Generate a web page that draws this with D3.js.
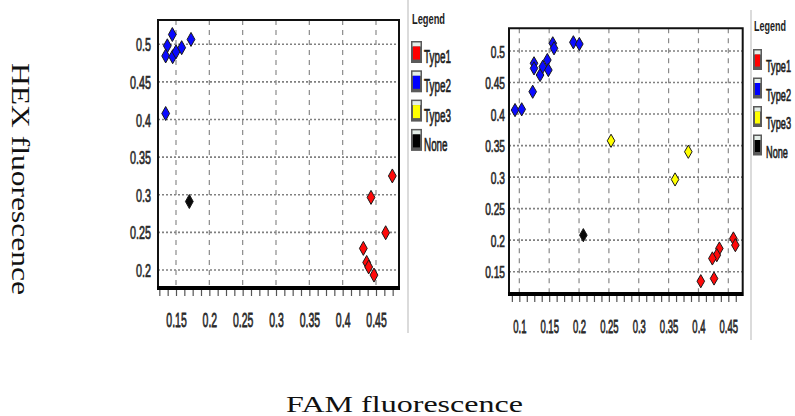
<!DOCTYPE html>
<html>
<head>
<meta charset="utf-8">
<script src="https://cdn.jsdelivr.net/npm/d3@7"></script>
<style>
  body { margin: 0; background: #fff; }
  svg { display: block; }
</style>
</head>
<body>
<svg id="chart" width="795" height="416"></svg>
<script>
// Genotype clusters, each point is [FAM, HEX]
const panelA_type1 = [[0.4745, 0.325], [0.4425, 0.2965], [0.4645, 0.2495], [0.431, 0.2287],
                      [0.436, 0.210], [0.439, 0.204], [0.447, 0.1932]];
const panelA_type2 = [[0.1445, 0.513], [0.137, 0.498], [0.1345, 0.4845], [0.145, 0.4835],
                      [0.150, 0.490], [0.1585, 0.4955], [0.1725, 0.5065], [0.1345, 0.408]];
const panelA_type3 = [];
const panelA_none  = [[0.170, 0.291]];

const panelB_type1 = [[0.4585, 0.2027], [0.4618, 0.1921], [0.435, 0.1868], [0.4307, 0.1762],
                      [0.4233, 0.1710], [0.4039, 0.1349], [0.4261, 0.1392]];
const panelB_type2 = [[0.0928, 0.4063], [0.104, 0.4075], [0.1224, 0.4354], [0.1246, 0.4805],
                      [0.1246, 0.4725], [0.1347, 0.4619], [0.1392, 0.475], [0.1469, 0.4857],
                      [0.1486, 0.4698], [0.156, 0.5122], [0.1581, 0.5043], [0.1905, 0.5138],
                      [0.2005, 0.5111]];
const panelB_type3 = [[0.2536, 0.3576], [0.383, 0.3402], [0.3608, 0.2963]];
const panelB_none  = [[0.2072, 0.2079]];

// Axis ticks
const panelA_xTicks = [0.15, 0.2, 0.25, 0.3, 0.35, 0.4, 0.45];
const panelA_xLabels = ["0.15", "0.2", "0.25", "0.3", "0.35", "0.4", "0.45"];
const panelA_yTicks = [0.2, 0.25, 0.3, 0.35, 0.4, 0.45, 0.5];
const panelA_yLabels = ["0.2", "0.25", "0.3", "0.35", "0.4", "0.45", "0.5"];

const panelB_xTicks = [0.1, 0.15, 0.2, 0.25, 0.3, 0.35, 0.4, 0.45];
const panelB_xLabels = ["0.1", "0.15", "0.2", "0.25", "0.3", "0.35", "0.4", "0.45"];
const panelB_yTicks = [0.15, 0.2, 0.25, 0.3, 0.35, 0.4, 0.45, 0.5];
const panelB_yLabels = ["0.15", "0.2", "0.25", "0.3", "0.35", "0.4", "0.45", "0.5"];

const legendNames = ["Type1", "Type2", "Type3", "None"];
const legendColors = ["#ff0000", "#0000ff", "#ffff00", "#000000"];

const svg = d3.select("#chart");
const SANS = "'Liberation Sans', Arial, sans-serif";
const SERIF = "'Liberation Serif', 'Times New Roman', serif";

function narrowText(g, x, y, str, size, sx, anchor, weight) {
  return g.append("text")
    .attr("transform", `translate(${x},${y}) scale(${sx},1)`)
    .attr("font-family", SANS)
    .attr("font-size", size)
    .attr("font-weight", weight || "normal")
    .attr("text-anchor", anchor || "start")
    .attr("fill", "#1e1e1e")
    .attr("stroke", "#1e1e1e").attr("stroke-width", weight ? 0 : 0.7)
    .text(str);
}

function drawPanel(cfg) {
  const g = svg.append("g");
  const f = cfg.frame;
  const x = d3.scaleLinear().domain(cfg.xDomain).range([f.left, f.right]);
  const y = d3.scaleLinear().domain(cfg.yDomain).range([f.bottom, f.top]);

  // grid
  g.append("g").selectAll("line").data(cfg.yTicks).join("line")
    .attr("x1", f.left).attr("x2", f.right)
    .attr("y1", d => y(d)).attr("y2", d => y(d))
    .attr("stroke", "#808080").attr("stroke-width", 1.6)
    .attr("stroke-dasharray", "2,2");
  g.append("g").selectAll("line").data(cfg.xTicks).join("line")
    .attr("x1", d => x(d)).attr("x2", d => x(d))
    .attr("y1", f.top).attr("y2", f.bottom)
    .attr("stroke", "#8a8a8a").attr("stroke-width", 1.2)
    .attr("stroke-dasharray", "5,5");

  // frame
  g.append("path")
    .attr("d", `M${f.left},${f.bottom}V${f.top}H${f.right}V${f.bottom}`)
    .attr("fill", "none").attr("stroke", "#111").attr("stroke-width", 2);
  g.append("line")
    .attr("x1", f.left - 1).attr("x2", f.right + 1)
    .attr("y1", f.bottom + 2).attr("y2", f.bottom + 2)
    .attr("stroke", "#000").attr("stroke-width", 4);

  // minor ticks under the bottom axis
  const step = 0.0125;
  const minor = d3.range(Math.ceil(cfg.xDomain[0] / step), Math.floor(cfg.xDomain[1] / step) + 1)
    .map(i => i * step);
  const minorAxis = g.append("g")
    .attr("transform", `translate(0,${f.bottom + 4})`)
    .call(d3.axisBottom(x).tickValues(minor).tickSize(6).tickFormat(""));
  minorAxis.select(".domain").remove();
  minorAxis.selectAll("line").attr("stroke", "#555").attr("stroke-width", 1.2);

  // x tick labels
  const xa = g.append("g")
    .attr("transform", `translate(0,${cfg.xLabelY})`)
    .call(d3.axisBottom(x).tickValues(cfg.xTicks).tickSize(0)
      .tickFormat((d, i) => cfg.xLabels[i]));
  xa.select(".domain").remove();
  xa.selectAll("text")
    .attr("y", 0).attr("dy", 0)
    .attr("font-family", SANS).attr("font-size", cfg.xFont)
    .attr("fill", "#2a2a2a")
    .attr("stroke", "#2a2a2a").attr("stroke-width", 0.8)
    .attr("transform", `scale(${cfg.xScale},1)`);

  // y tick labels
  const ya = g.append("g")
    .attr("transform", `translate(${cfg.yLabelX},0)`)
    .call(d3.axisLeft(y).tickValues(cfg.yTicks).tickSize(0)
      .tickFormat((d, i) => cfg.yLabels[i]));
  ya.select(".domain").remove();
  ya.selectAll("text")
    .attr("x", 0).attr("dy", "0.36em")
    .attr("font-family", SANS).attr("font-size", cfg.yFont)
    .attr("fill", "#2a2a2a")
    .attr("stroke", "#2a2a2a").attr("stroke-width", 0.7)
    .attr("transform", `scale(${cfg.yScale},1)`);

  // diamonds
  const w = cfg.dw, h = cfg.dh;
  const diamond = `M0,${-h}L${w},0L0,${h}L${-w},0Z`;
  cfg.series.forEach(s => {
    g.append("g").selectAll("path").data(s.data).join("path")
      .attr("d", diamond)
      .attr("transform", d => `translate(${x(d[0])},${y(d[1])})`)
      .attr("fill", s.color)
      .attr("stroke", "#1a1a1a").attr("stroke-width", 1);
  });

  // legend
  const L = cfg.legend;
  g.append("line")
    .attr("x1", L.sepX).attr("x2", L.sepX)
    .attr("y1", L.sepTop).attr("y2", L.sepBottom)
    .attr("stroke", "#cfcfcf").attr("stroke-width", 1.5);
  narrowText(g, L.x + 1, L.titleY, "Legend", L.titleFont, L.titleScale, "start", "bold");
  legendNames.forEach((name, i) => {
    const top = L.firstTop + i * L.gap;
    const ig = g.append("g");
    ig.append("rect").attr("x", L.x).attr("y", top).attr("width", L.iw).attr("height", L.ih)
      .attr("fill", "#5a5a5a");
    ig.append("rect").attr("x", L.x + 1.5).attr("y", top + 1.5).attr("width", L.iw - 3).attr("height", 4)
      .attr("fill", "#e4eee8");
    ig.append("rect").attr("x", L.x + 2).attr("y", top + 5.5).attr("width", L.iw - 4).attr("height", L.ih - 9)
      .attr("fill", legendColors[i]);
    narrowText(g, L.textX, top + L.ih + L.textDy, name, L.font, L.scale, "start");
  });
}

drawPanel({
  frame: { left: 158, top: 20, right: 399, bottom: 286 },
  xDomain: [0.123, 0.4845],
  yDomain: [0.1787, 0.5323],
  xTicks: panelA_xTicks, xLabels: panelA_xLabels,
  yTicks: panelA_yTicks, yLabels: panelA_yLabels,
  xLabelY: 327, xFont: 21, xScale: 0.5,
  yLabelX: 151, yFont: 18, yScale: 0.6,
  dw: 3.9, dh: 7,
  series: [
    { data: panelA_type2, color: "#0a0aff" },
    { data: panelA_none, color: "#0a0a0a" },
    { data: panelA_type3, color: "#ffff00" },
    { data: panelA_type1, color: "#ff0a0a" }
  ],
  legend: {
    sepX: 408, sepTop: 0, sepBottom: 333,
    x: 411, titleY: 24, titleFont: 15, titleScale: 0.62,
    firstTop: 41, gap: 29.3, iw: 11, ih: 22,
    textX: 424, textDy: 0, font: 19, scale: 0.52
  }
});

drawPanel({
  frame: { left: 509, top: 28.3, right: 742.7, bottom: 292 },
  xDomain: [0.0827, 0.4741],
  yDomain: [0.1178, 0.536],
  xTicks: panelB_xTicks, xLabels: panelB_xLabels,
  yTicks: panelB_yTicks, yLabels: panelB_yLabels,
  xLabelY: 333, xFont: 19, xScale: 0.5,
  yLabelX: 505, yFont: 17, yScale: 0.6,
  dw: 3.8, dh: 6.6,
  series: [
    { data: panelB_type2, color: "#0a0aff" },
    { data: panelB_none, color: "#0a0a0a" },
    { data: panelB_type3, color: "#ffff00" },
    { data: panelB_type1, color: "#ff0a0a" }
  ],
  legend: {
    sepX: 751, sepTop: 10, sepBottom: 340,
    x: 753, titleY: 31, titleFont: 15, titleScale: 0.6,
    firstTop: 49, gap: 28.5, iw: 9, ih: 21,
    textX: 766, textDy: 2, font: 17, scale: 0.54
  }
});

// shared axis titles
svg.append("text")
  .attr("transform", "translate(12,179) rotate(90)")
  .attr("text-anchor", "middle")
  .attr("font-family", SERIF).attr("font-size", 25)
  .attr("textLength", 232).attr("lengthAdjust", "spacingAndGlyphs")
  .attr("fill", "#111")
  .text("HEX fluorescence");

svg.append("text")
  .attr("x", 404.5).attr("y", 412)
  .attr("text-anchor", "middle")
  .attr("font-family", SERIF).attr("font-size", 24)
  .attr("textLength", 237).attr("lengthAdjust", "spacingAndGlyphs")
  .attr("fill", "#111")
  .text("FAM fluorescence");
</script>
</body>
</html>
